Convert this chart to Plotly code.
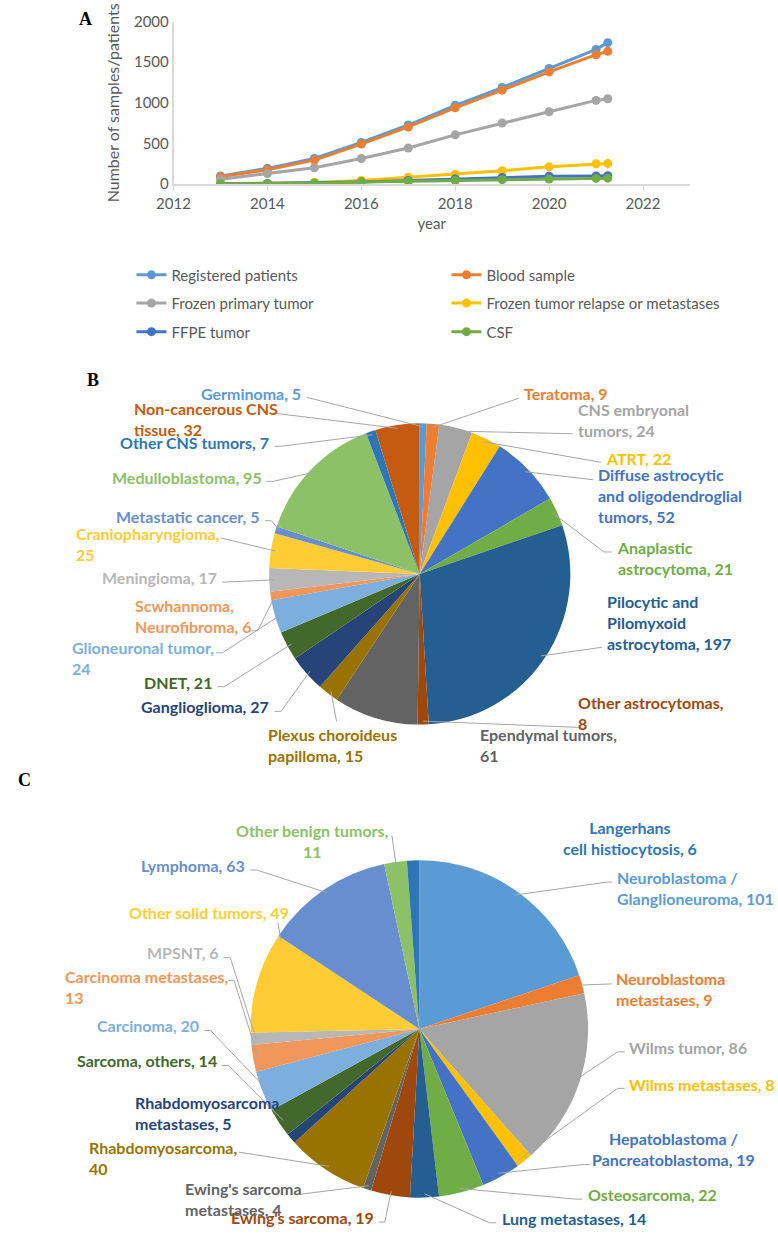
import math
import plotly.graph_objects as go

W, H = 778, 1235

# ---------------- data: panel A ----------------
years = [2013, 2014, 2015, 2016, 2017, 2018, 2019, 2020, 2021, 2021.25]
registered_patients = [100, 194, 315, 513, 727, 970, 1188, 1423, 1657, 1740]
blood_sample = [90, 178, 295, 493, 703, 938, 1156, 1380, 1592, 1633]
frozen_primary = [60, 130, 202, 315, 445, 606, 752, 890, 1030, 1050]
frozen_relapse = [5, 10, 20, 45, 85, 122, 166, 213, 250, 255]
ffpe_tumor = [3, 8, 12, 25, 45, 64, 82, 97, 100, 103]
csf = [2, 5, 10, 25, 35, 45, 55, 62, 70, 73]
series_names = ["Registered patients", "Blood sample", "Frozen primary tumor",
                "Frozen tumor relapse or metastases", "FFPE tumor", "CSF"]
x_ticks = [2012, 2014, 2016, 2018, 2020, 2022]
y_ticks = [0, 500, 1000, 1500, 2000]

# ---------------- data: panel B ----------------
b_labels = ["Germinoma", "Teratoma", "CNS embryonal tumors", "ATRT",
            "Diffuse astrocytic and oligodendroglial tumors", "Anaplastic astrocytoma",
            "Pilocytic and Pilomyxoid astrocytoma", "Other astrocytomas", "Ependymal tumors",
            "Plexus choroideus papilloma", "Ganglioglioma", "DNET", "Glioneuronal tumor",
            "Scwhannoma, Neurofibroma", "Meningioma", "Craniopharyngioma", "Metastatic cancer",
            "Medulloblastoma", "Other CNS tumors", "Non-cancerous CNS tissue"]
b_values = [5, 9, 24, 22, 52, 21, 197, 8, 61, 15, 27, 21, 24, 6, 17, 25, 5, 95, 7, 32]

# ---------------- data: panel C ----------------
c_labels = ["Neuroblastoma / Glanglioneuroma", "Neuroblastoma metastases", "Wilms tumor",
            "Wilms metastases", "Hepatoblastoma / Pancreatoblastoma", "Osteosarcoma",
            "Lung metastases", "Ewing's sarcoma", "Ewing's sarcoma metastases",
            "Rhabdomyosarcoma", "Rhabdomyosarcoma metastases", "Sarcoma, others", "Carcinoma",
            "Carcinoma metastases", "MPSNT", "Other solid tumors", "Lymphoma",
            "Other benign tumors", "Langerhans cell histiocytosis"]
c_values = [101, 9, 86, 8, 19, 22, 14, 19, 4, 40, 5, 14, 20, 13, 6, 49, 63, 11, 6]

# ---------------- styling ----------------
line_colors = ["#5B9BD5", "#ED7D31", "#A5A5A5", "#FFC000", "#4472C4", "#70AD47"]
b_colors = ["#5B9BD5", "#ED7D31", "#A5A5A5", "#FFC000", "#4472C4", "#70AD47",
            "#255E91", "#9E480E", "#636363", "#997300", "#264478", "#43682B",
            "#7CAFDD", "#F1975A", "#B7B7B7", "#FFCD33", "#698ED0", "#8CC168",
            "#2E75B6", "#C55A11"]
c_colors = ["#5B9BD5", "#ED7D31", "#A5A5A5", "#FFC000", "#4472C4", "#70AD47",
            "#255E91", "#9E480E", "#636363", "#997300", "#264478", "#43682B",
            "#7CAFDD", "#F1975A", "#B7B7B7", "#FFCD33", "#698ED0", "#8CC168",
            "#2E75B6"]
TXT = "#595959"
LEADER = "#A6A6A6"
FONT = "Lato"


def X(p):
    return p / W


def Y(p):
    return 1 - p / H


fig = go.Figure()

# ---------------- panel A: lines ----------------
series = [registered_patients, blood_sample, frozen_primary, frozen_relapse, ffpe_tumor, csf]
legend_ids = ["legend", "legend", "legend2", "legend2", "legend3", "legend3"]
for name, vals, col, lg in zip(series_names, series, line_colors, legend_ids):
    fig.add_trace(go.Scatter(
        x=years, y=vals, name=name, mode="lines+markers",
        line=dict(color=col, width=3), marker=dict(color=col, size=9),
        legend=lg, xaxis="x", yaxis="y"))

# ---------------- pies ----------------
B_C = (411.7, 572.3)
B_R = 154
C_C = (411.3, 1034.0)
C_R = 172.5

for labels, values, colors, (cx, cy), r in [
        (b_labels, b_values, b_colors, B_C, B_R),
        (c_labels, c_values, c_colors, C_C, C_R)]:
    fig.add_trace(go.Pie(
        labels=labels, values=values, sort=False, direction="clockwise", rotation=0,
        marker=dict(colors=colors, line=dict(width=0)), textinfo="none",
        hoverinfo="label+value", showlegend=False,
        domain=dict(x=[X(cx - r), X(cx + r)], y=[Y(cy + r), Y(cy - r)])))

# label layout: (breaks, sep, x, y, xanchor, align, tail, stub, head_frac)
B_SPECS = [
    ([], ", ", 292.7, 389.3, "right", "right", (296, 393), None, 0.5),
    ([], ", ", 516, 389.3, "left", "left", (513, 394), None, 0.5),
    ([2], ", ", 571.7, 415.8, "left", "left", (568, 430), None, 0.5),
    ([], ", ", 600, 455, "left", "left", (597, 459), None, 0.5),
    ([2, 4], ", ", 592.3, 493.1, "left", "left", (589, 476.7), None, 0.5),
    ([1], ", ", 611, 556.2, "left", "left", (608, 550), (600, 550), 0.5),
    ([2, 3], ", ", 600.7, 622, "left", "left", (598, 646.7), None, 0.5),
    ([], ",<br>", 571.7, 713.7, "left", "left", (574, 728), None, 0.5),
    ([], ",<br>", 471.7, 746.3, "left", "left", None, None, 0.5),
    ([2], ", ", 255, 746.3, "left", "left", (326.7, 722), None, 0.5),
    ([], ", ", 260, 706.7, "right", "right", (263.3, 711.7), (270, 711.7), 0.5),
    ([], ", ", 201.7, 682.3, "right", "right", (205, 686.7), (212, 686.7), 0.5),
    ([], ",<br>", 54, 657.2, "left", "left", (203.3, 652.3), (210, 652.3), 0.5),
    ([1], ", ", 118.3, 614.7, "left", "left", (240, 630), (246, 630), 0.5),
    ([], ", ", 206.7, 576, "right", "right", (210, 580.7), None, 0.5),
    ([], ",<br>", 58.3, 541.7, "left", "left", (208.3, 535.7), None, 0.5),
    ([], ", ", 250.7, 514, "right", "right", (253.3, 518.3), (260, 518.3), 0.5),
    ([], ", ", 252.3, 474.3, "right", "right", (255, 478.3), (262, 478.3), 0.5),
    ([], ", ", 260, 439, "right", "right", (263.3, 442.7), (270, 442.7), 0.5),
    ([2], ", ", 117.3, 414.7, "left", "left", (261.7, 409), None, 0.5),
]

C_SPECS = [
    ([2], ", ", 611.5, 890.8, "left", "left", (608.5, 885), (603, 885), 0.5),
    ([1], ", ", 610.7, 993.3, "left", "left", (608, 988.3), None, 0.5),
    ([], ", ", 624, 1052.7, "left", "left", (621.3, 1057.3), (614, 1057.3), 0.5),
    ([], ", ", 624, 1090, "left", "left", (621.3, 1094.3), (614, 1094.3), 0.5),
    ([2], ", ", 671, 1156.3, "center", "center", (586, 1171.7), (578, 1171.7), 0.5),
    ([], ", ", 581.3, 1201.7, "left", "left", (578, 1206.7), (571, 1206.7), 0.5),
    ([], ", ", 494, 1226, "left", "left", (490, 1230.7), (483, 1230.7), 0.5),
    ([], ", ", 366.7, 1225, "right", "right", (370, 1230), (376, 1230), 0.5),
    ([2], ", ", 169.3, 1207, "left", "left", (290, 1201.7), None, 0.5),
    ([], ",<br>", 71.7, 1164.7, "left", "left", (226.7, 1159), None, 0.5),
    ([1], ", ", 119, 1119.2, "left", "left", None, None, 0.5),
    ([], ", ", 206.7, 1066, "right", "right", (209.3, 1071), (216, 1071), 0.5),
    ([], ", ", 188.3, 1030.7, "right", "right", (191.7, 1035.7), (198, 1035.7), 0.5),
    ([], ",<br>", 46.7, 991.2, "left", "left", (216, 985), (222, 985), 0.5),
    ([], ", ", 208.3, 956, "right", "right", (211, 961.7), (218, 961.7), 0.5),
    ([], ", ", 280, 916, "right", "right", (266.7, 926), None, 0.97),
    ([], ", ", 235, 868.3, "right", "right", (238.3, 872.7), (245, 872.7), 0.5),
    ([], ",<br>", 302, 843, "center", "center", (383.3, 838), None, 0.5),
    ([1], ", ", 627, 840, "center", "center", None, None, 0.5),
]


def wrap(name, breaks):
    words = name.split(" ")
    out = words[0]
    for i, w in enumerate(words[1:], start=1):
        out += ("<br>" if i in breaks else " ") + w
    return out


annotations = []
shapes = []


def add_pie_labels(labels, values, colors, specs, center, radius):
    total = float(sum(values))
    cum = 0.0
    cx, cy = center
    for lab, val, col, spec in zip(labels, values, colors, specs):
        breaks, sep, tx, ty, xa, al, tail, stub, frac = spec
        ang = math.radians(360.0 * (cum + frac * val) / total)
        cum += val
        annotations.append(dict(
            text=wrap(lab, breaks) + sep + str(val), x=X(tx), y=Y(ty),
            xref="paper", yref="paper", xanchor=xa, yanchor="middle", align=al,
            showarrow=False, font=dict(family=FONT, size=16, color=col, weight="bold")))
        if tail is None:
            continue
        hx = cx + 0.97 * radius * math.sin(ang)
        hy = cy - 0.97 * radius * math.cos(ang)
        pts = [tail] + ([stub] if stub else []) + [(hx, hy)]
        path = "M " + " L ".join(f"{X(a):.5f},{Y(b):.5f}" for a, b in pts)
        shapes.append(dict(type="path", xref="paper", yref="paper", path=path,
                           line=dict(color=LEADER, width=1)))


add_pie_labels(b_labels, b_values, b_colors, B_SPECS, B_C, B_R)
add_pie_labels(c_labels, c_values, c_colors, C_SPECS, C_C, C_R)

# panel letters
for letter, lx, ly in [("A", 70, 9), ("B", 78, 375), ("C", 8, 781)]:
    annotations.append(dict(text=letter, x=X(lx), y=Y(ly), xref="paper", yref="paper",
                            xanchor="center", yanchor="middle", showarrow=False,
                            font=dict(family="Liberation Serif", size=18, color="black",
                                      weight="bold")))

legend_common = dict(orientation="h", xanchor="left", yanchor="middle",
                     entrywidth=270, entrywidthmode="pixels", bgcolor="rgba(0,0,0,0)",
                     font=dict(family=FONT, size=15, color=TXT), itemwidth=30,
                     traceorder="normal")

fig.update_layout(
    width=W, height=H, margin=dict(l=0, r=0, t=0, b=0),
    paper_bgcolor="white", plot_bgcolor="white",
    font=dict(family=FONT, color=TXT),
    xaxis=dict(domain=[X(160), X(688)], range=[2012, 2023], tickvals=x_ticks,
               showgrid=False, zeroline=False, showline=True, linecolor="#D9D9D9",
               linewidth=1.5, ticks="outside", ticklen=5, tickcolor="#D9D9D9",
               tickfont=dict(family=FONT, size=15, color=TXT),
               title=dict(text="year", font=dict(family=FONT, size=15, color=TXT), standoff=8),
               anchor="y"),
    yaxis=dict(domain=[Y(176.7), Y(11.7)], range=[0, 2000], tickvals=y_ticks,
               showgrid=False, zeroline=False, showline=True, linecolor="#D9D9D9",
               linewidth=1.5, ticks="", tickfont=dict(family=FONT, size=15, color=TXT),
               title=dict(text="Number of samples/patients",
                          font=dict(family=FONT, size=16, color=TXT), standoff=10),
               anchor="x"),
    legend=dict(x=X(117), y=Y(269), **legend_common),
    legend2=dict(x=X(117), y=Y(297.7), **legend_common),
    legend3=dict(x=X(117), y=Y(326.7), **legend_common),
    annotations=annotations,
    shapes=shapes,
)

fig.write_html("out.html", config={"displayModeBar": False},
               post_script="document.body.style.margin='0px';")
